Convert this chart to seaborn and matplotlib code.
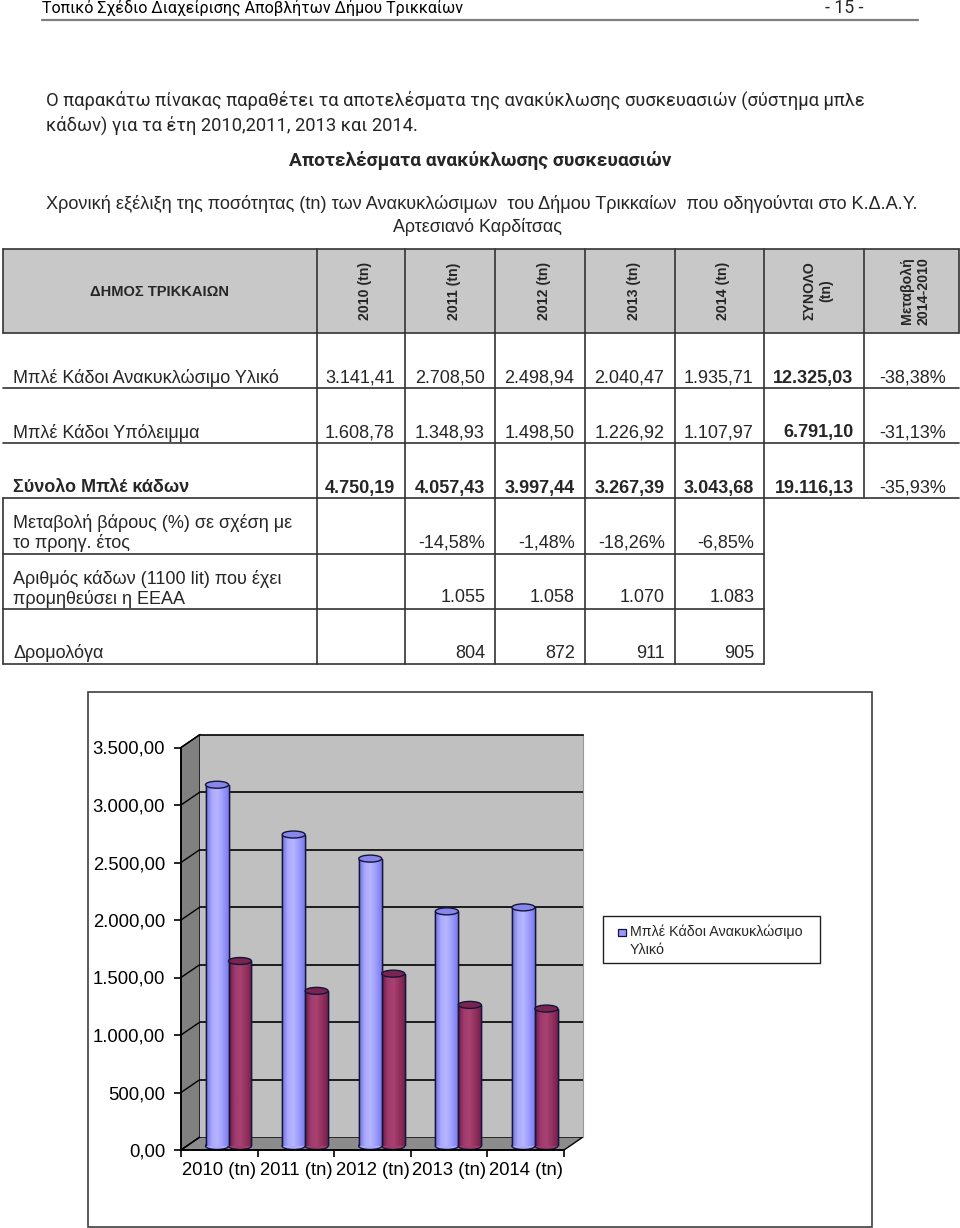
import numpy as np
import pandas as pd
import matplotlib
matplotlib.use("Agg")
import matplotlib.pyplot as plt
import seaborn as sns
from matplotlib.patches import Rectangle, Polygon, Ellipse
from matplotlib.colors import LinearSegmentedColormap
from matplotlib.ticker import FuncFormatter

# ---------------- data ----------------
years = ["2010 (tn)", "2011 (tn)", "2012 (tn)", "2013 (tn)", "2014 (tn)"]
series_names = ["Μπλέ Κάδοι Ανακυκλώσιμο Υλικό", "Μπλέ Κάδοι Υπόλειμμα"]
# values as drawn in the chart
chart_recyclable = [3141.41, 2708.50, 2498.94, 2040.47, 2075.0]
chart_residual = [1608.78, 1348.93, 1498.50, 1226.92, 1195.0]

# table values
tbl_recyclable = [3141.41, 2708.50, 2498.94, 2040.47, 1935.71, 12325.03]
tbl_residual = [1608.78, 1348.93, 1498.50, 1226.92, 1107.97, 6791.10]
tbl_total = [4750.19, 4057.43, 3997.44, 3267.39, 3043.68, 19116.13]
tbl_change_2014_2010 = ["-38,38%", "-31,13%", "-35,93%"]
tbl_change_prev = ["", "-14,58%", "-1,48%", "-18,26%", "-6,85%"]
tbl_bins = ["", "1.055", "1.058", "1.070", "1.083"]
tbl_routes = ["", "804", "872", "911", "905"]
header_cols = ["2010 (tn)", "2011 (tn)", "2012 (tn)", "2013 (tn)", "2014 (tn)",
               "ΣΥΝΟΛΟ\n(tn)", "Μεταβολή\n2014-2010"]
row_labels = ["Μπλέ Κάδοι Ανακυκλώσιμο Υλικό", "Μπλέ Κάδοι Υπόλειμμα",
              "Σύνολο Μπλέ κάδων", "Μεταβολή βάρους (%) σε σχέση με\nτο προηγ. έτος",
              "Αριθμός κάδων (1100 lit) που έχει\nπρομηθεύσει η ΕΕΑΑ", "Δρομολόγα"]
y_ticks = [0, 500, 1000, 1500, 2000, 2500, 3000, 3500]


def gr(v, dec=2):
    s = f"{v:,.{dec}f}"
    return s.replace(",", "X").replace(".", ",").replace("X", ".")


# ---------------- figure ----------------
sns.set_theme(style="white")
plt.rcParams["font.family"] = ["Liberation Sans", "DejaVu Sans"]
W, H = 960, 1228
fig = plt.figure(figsize=(9.6, 12.28), dpi=100)
fig.patch.set_facecolor("white")
ax = fig.add_axes([0, 0, 1, 1])
ax.set_xlim(0, W)
ax.set_ylim(H, 0)
ax.axis("off")
ax.set_zorder(0)
renderer = fig.canvas.get_renderer()


def px_rect(x0, y0, x1, y1):
    return [x0 / W, 1 - y1 / H, (x1 - x0) / W, (y1 - y0) / H]


def fit_text(x, y, s, width, **kw):
    t = ax.text(x, y, s, **kw)
    bb = t.get_window_extent(renderer)
    t.set_fontsize(t.get_fontsize() * width / bb.width)
    return t


CAL = ["Roboto", "DejaVu Sans"]
ARI = ["Liberation Sans", "DejaVu Sans"]

# ---------------- page header / text ----------------
fit_text(42, 8, "Τοπικό Σχέδιο Διαχείρισης Αποβλήτων Δήμου Τρικκαίων", 418,
         family=CAL, fontsize=12, va="center", ha="left", color="black")
fit_text(825, 8, "- 15 -", 38, family=CAL, fontsize=12, va="center", ha="left")
ax.plot([42, 918], [20, 20], color="#7f7f7f", lw=1.6)

fit_text(46, 100, "Ο παρακάτω πίνακας παραθέτει τα αποτελέσματα της ανακύκλωσης "
         "συσκευασιών (σύστημα μπλε", 826, family=CAL, fontsize=14, va="center", ha="left")
fit_text(46, 125, "κάδων) για τα έτη 2010,2011, 2013 και 2014.", 376,
         family=CAL, fontsize=14, va="center", ha="left")
fit_text(480, 160, "Αποτελέσματα ανακύκλωσης συσκευασιών", 383,
         family=CAL, fontsize=14, fontweight="bold", va="center", ha="center")
fit_text(46, 204, "Χρονική εξέλιξη της ποσότητας (tn) των Ανακυκλώσιμων  του Δήμου "
         "Τρικκαίων  που οδηγούνται στο Κ.Δ.Α.Υ.", 871,
         family=ARI, fontsize=12, va="center", ha="left")
fit_text(477, 227, "Αρτεσιανό Καρδίτσας", 170, family=ARI, fontsize=12,
         va="center", ha="center")

# ---------------- table ----------------
cols = [2.7, 316.6, 405.4, 495.4, 584.8, 674.8, 764.2, 864.0, 958.5]
LC = "#333333"
LW = 1.2
FS = 13.0
top, hb = 249, 333
ax.add_patch(Rectangle((cols[0], top), cols[-1] - cols[0], hb - top,
                       facecolor="#c8c8c8", edgecolor="none", zorder=0))
ax.plot([cols[0], cols[-1]], [top, top], color=LC, lw=LW)
ax.plot([cols[0], cols[-1]], [hb, hb], color=LC, lw=LW)
for c in cols:
    ax.plot([c, c], [top, hb], color=LC, lw=LW)
ax.text((cols[0] + cols[1]) / 2, 292, "ΔΗΜΟΣ ΤΡΙΚΚΑΙΩΝ", fontsize=10.5,
        fontweight="bold", ha="center", va="center")
for i, h in enumerate(header_cols):
    cx = (cols[i + 1] + cols[i + 2]) / 2 + 4
    ax.text(cx, 291, h, rotation=90, fontsize=10.2, fontweight="bold",
            ha="center", va="center", multialignment="center", linespacing=1.25)

row_lines = [388, 443, 498]
for y in row_lines:
    ax.plot([cols[0], cols[-1]], [y, y], color=LC, lw=LW)
for c in cols[1:-1]:
    ax.plot([c, c], [hb, 498], color=LC, lw=LW)

PADR = 10.5
main_rows = [tbl_recyclable, tbl_residual, tbl_total]
row_y = [378, 433, 488]
for r, (vals, y) in enumerate(zip(main_rows, row_y)):
    bold_row = r == 2
    ax.text(13, y, row_labels[r], fontsize=FS, ha="left", va="center",
            fontweight="bold" if bold_row else "normal")
    for j, v in enumerate(vals):
        ax.text(cols[j + 2] - PADR, y, gr(v), fontsize=FS, ha="right", va="center",
                fontweight="bold" if (bold_row or j == 5) else "normal")
    ax.text(cols[8] - 12, y, tbl_change_2014_2010[r], fontsize=FS, ha="right",
            va="center")

low_lines = [554, 609, 664]
for y in low_lines:
    ax.plot([cols[0], cols[6]], [y, y], color=LC, lw=LW)
for c in cols[:7]:
    ax.plot([c, c], [498, 664], color=LC, lw=LW)
low_rows = [tbl_change_prev, tbl_bins, tbl_routes]
low_y = [543, 598, 653]
label_y = [533, 589, 653]
for r, (vals, y, ly) in enumerate(zip(low_rows, low_y, label_y)):
    ax.text(13, ly, row_labels[r + 3], fontsize=FS, ha="left", va="center",
            linespacing=1.1)
    for j, v in enumerate(vals):
        if v:
            ax.text(cols[j + 2] - 10, y, v, fontsize=FS, ha="right", va="center")

# ---------------- chart ----------------
ax.add_patch(Rectangle((88, 692), 784, 535, facecolor="white", edgecolor="#404040",
                       lw=1.2, zorder=0.5))
PX = 0.115  # pixels per unit


def yf(v):
    return 1150 - v * PX


def yb(v):
    return 1137 - v * PX


# side wall & floor
ax.add_patch(Polygon([(181, yf(3500)), (200, yb(3500)), (200, yb(0)), (181, yf(0))],
                     closed=True, facecolor="#808080", edgecolor="black", lw=1.0,
                     zorder=1))
ax.add_patch(Polygon([(181, yf(0)), (564, yf(0)), (583, yb(0)), (200, yb(0))],
                     closed=True, facecolor="#8c8c8c", edgecolor="black", lw=1.0,
                     zorder=1))
for v in y_ticks:
    ax.plot([181, 200], [yf(v), yb(v)], color="black", lw=1.0, zorder=1.1)

# back wall
ax_back = fig.add_axes(px_rect(200, yb(3500), 583, yb(0)))
ax_back.set_facecolor("#c0c0c0")
ax_back.set_ylim(0, 3500)
ax_back.set_xlim(0, 1)
for v in y_ticks[1:-1]:
    ax_back.axhline(v, color="black", lw=1.2)
ax_back.set_xticks([])
ax_back.set_yticks([])
for s in ["left", "bottom"]:
    ax_back.spines[s].set_visible(False)
ax_back.spines["top"].set_color("black")
ax_back.spines["top"].set_linewidth(1.2)
ax_back.spines["right"].set_color("#9a9a9a")
ax_back.spines["right"].set_linewidth(0.8)
ax_back.set_zorder(1)

# bars (mid depth)
ax_mid = fig.add_axes(px_rect(190.2, 1146 - 3500 * PX, 573.2, 1146))
ax_mid.set_zorder(2)
ax_mid.patch.set_alpha(0)
BLUE, RED, EDGE = "#9999ff", "#993366", "#14143c"
df = pd.DataFrame({
    "year": years * 2,
    "series": [series_names[0]] * 5 + [series_names[1]] * 5,
    "value": chart_recyclable + chart_residual,
})
sns.barplot(data=df, x="year", y="value", hue="series", order=years,
            hue_order=series_names, palette=[BLUE, RED], width=0.6, saturation=1,
            edgecolor=EDGE, linewidth=1.0, errorbar=None, legend=False, ax=ax_mid)

cm_blue = LinearSegmentedColormap.from_list(
    "b", ["#6f6fd8", "#a9a9ff", "#b6b6ff", "#9a9aff", "#7c7ce6"])
cm_red = LinearSegmentedColormap.from_list(
    "r", ["#6a1c44", "#a13a6f", "#a8426f", "#95315f", "#74214b"])
EH = 7 / PX
grad = np.linspace(0, 1, 64).reshape(1, -1)
for p in list(ax_mid.patches):
    x0, w, h = p.get_x(), p.get_width(), p.get_height()
    if w <= 0 or h <= 0:
        continue
    is_blue = abs(p.get_facecolor()[2] - 1.0) < 0.05
    cmap = cm_blue if is_blue else cm_red
    top_c = "#8787ea" if is_blue else "#7a2550"
    z = p.get_zorder()
    ax_mid.add_patch(Ellipse((x0 + w / 2, 0), w, EH, facecolor=cmap(0.3),
                             edgecolor=EDGE, lw=1.0, zorder=z - 0.05, clip_on=False))
    im = ax_mid.imshow(grad, extent=[x0, x0 + w, 0, h], aspect="auto", cmap=cmap,
                       zorder=z + 0.01, interpolation="bilinear")
    im.set_clip_path(p)
    ax_mid.plot([x0, x0], [0, h], color=EDGE, lw=1.0, zorder=z + 0.02)
    ax_mid.plot([x0 + w, x0 + w], [0, h], color=EDGE, lw=1.0, zorder=z + 0.02)
    ax_mid.add_patch(Ellipse((x0 + w / 2, h), w, EH, facecolor=top_c,
                             edgecolor=EDGE, lw=1.0, zorder=z + 0.03, clip_on=False))
ax_mid.set_xlim(-0.5, 4.5)
ax_mid.set_ylim(0, 3500)
ax_mid.axis("off")

# front axes (ticks & labels)
ax_front = fig.add_axes(px_rect(181, yf(3500), 564, yf(0)))
ax_front.set_zorder(3)
ax_front.patch.set_alpha(0)
ax_front.set_xlim(-0.5, 4.5)
ax_front.set_ylim(0, 3500)
for s in ["top", "right"]:
    ax_front.spines[s].set_visible(False)
for s in ["left", "bottom"]:
    ax_front.spines[s].set_color("black")
    ax_front.spines[s].set_linewidth(1.3)
ax_front.set_yticks(y_ticks)
ax_front.yaxis.set_major_formatter(FuncFormatter(lambda v, pos: gr(v)))
ax_front.tick_params(axis="y", direction="out", length=5, width=1.2, color="black",
                     pad=6.5, labelsize=13.3, labelcolor="black", left=True)
ax_front.set_xticks(np.arange(-0.5, 5.0, 1.0))
ax_front.set_xticklabels([])
ax_front.set_xticks(np.arange(5), minor=True)
ax_front.set_xticklabels(years, minor=True)
ax_front.tick_params(axis="x", which="major", direction="out", length=5, width=1.2,
                     color="black", bottom=True)
ax_front.tick_params(axis="x", which="minor", length=0, pad=8.5, labelsize=13.3,
                     labelcolor="black", bottom=True)
ax_front.grid(False)

# legend box (only first series visible in the original)
ax.add_patch(Rectangle((603, 916), 217, 47, facecolor="white", edgecolor="#222222",
                       lw=1.0, zorder=2))
ax.add_patch(Rectangle((618, 928.5), 7.5, 7.5, facecolor=BLUE, edgecolor=EDGE,
                       lw=0.9, zorder=3))
fit_text(630, 932, "Μπλέ Κάδοι Ανακυκλώσιμο", 173, family=ARI, fontsize=11.5,
         ha="left", va="center", zorder=3)
ax.text(630, 950, "Υλικό", family=ARI, fontsize=ax.texts[-1].get_fontsize(),
        ha="left", va="center", zorder=3)

fig.savefig("out.png", dpi=100, facecolor="white")
